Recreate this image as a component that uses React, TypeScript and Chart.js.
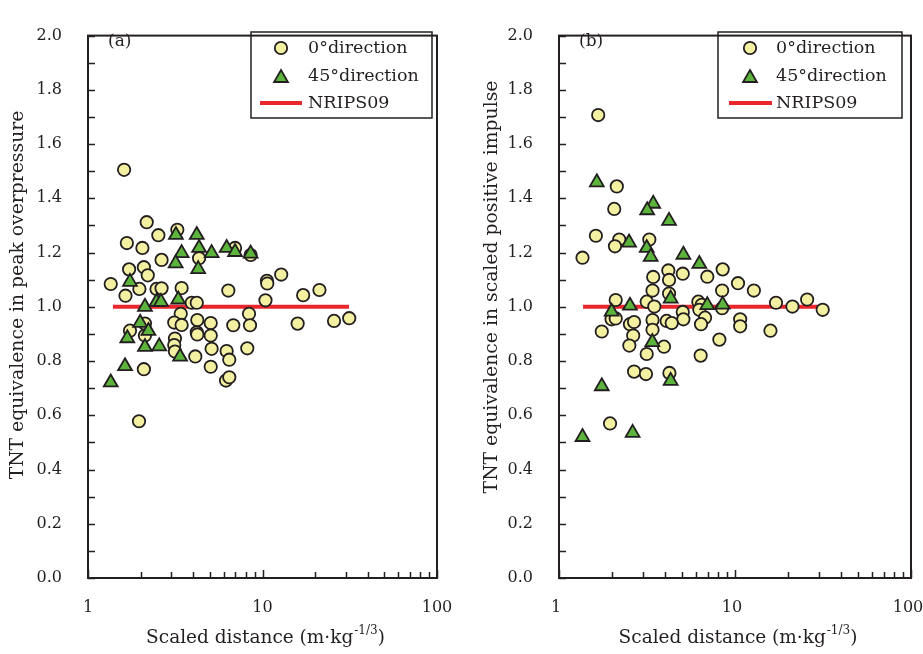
import React, { useEffect, useRef } from 'react';
import { Chart, registerables } from 'chart.js';
Chart.register(...registerables);

// ---------- data: panel (a) peak overpressure ----------
const aCircleX = [1.61, 2.17, 2.53, 3.25, 1.67, 2.05, 2.64, 4.33, 6.96, 8.55, 1.72, 2.09, 2.2, 1.35, 1.97, 2.47, 2.64, 3.44, 6.37, 10.6, 10.65, 12.8, 21.2, 17.1, 10.4, 1.64, 3.93, 4.2, 3.4, 8.37, 3.12, 3.44, 2.12, 4.23, 5.05, 6.8, 8.48, 1.74, 2.12, 4.2, 4.23, 5.05, 3.15, 3.12, 3.15, 5.11, 4.12, 6.23, 6.45, 8.18, 5.05, 2.09, 6.18, 6.45, 1.96, 15.9, 25.7, 31.4];
const aCircleY = [1.505, 1.312, 1.264, 1.284, 1.235, 1.217, 1.173, 1.179, 1.217, 1.191, 1.138, 1.146, 1.116, 1.084, 1.066, 1.066, 1.068, 1.069, 1.06, 1.096, 1.086, 1.119, 1.062, 1.043, 1.024, 1.041, 1.015, 1.015, 0.974, 0.974, 0.942, 0.933, 0.938, 0.951, 0.94, 0.932, 0.932, 0.912, 0.894, 0.906, 0.898, 0.894, 0.883, 0.859, 0.835, 0.845, 0.817, 0.837, 0.805, 0.847, 0.779, 0.77, 0.728, 0.74, 0.578, 0.938, 0.948, 0.958];
const aTriX = [3.19, 4.2, 3.44, 4.33, 5.11, 6.23, 6.96, 8.55, 3.18, 4.28, 1.74, 2.12, 2.47, 2.62, 3.29, 1.99, 2.22, 1.68, 2.12, 2.56, 3.37, 1.63, 1.35];
const aTriY = [1.265, 1.265, 1.198, 1.217, 1.198, 1.217, 1.202, 1.196, 1.16, 1.139, 1.092, 1.0, 1.018, 1.018, 1.027, 0.941, 0.911, 0.884, 0.852, 0.854, 0.816, 0.781, 0.721];
const aLineX = [1.39, 31.3];
const aLineY = [1.0, 1.0];

// ---------- data: panel (b) scaled positive impulse ----------
const bCircleX = [1.67, 2.13, 2.06, 1.62, 2.2, 2.08, 3.26, 1.36, 8.51, 4.18, 3.43, 4.22, 5.05, 6.96, 3.4, 4.22, 8.45, 2.1, 3.15, 3.48, 6.19, 6.46, 6.27, 8.45, 1.99, 2.1, 5.05, 5.09, 6.76, 2.53, 2.67, 3.4, 4.09, 4.37, 6.41, 1.75, 3.4, 2.64, 8.15, 2.51, 3.95, 3.15, 6.38, 2.67, 3.12, 4.24, 1.95, 10.4, 12.8, 17.1, 21.2, 25.7, 31.5, 10.7, 10.7, 15.9];
const bCircleY = [1.707, 1.444, 1.361, 1.262, 1.248, 1.223, 1.248, 1.181, 1.138, 1.134, 1.11, 1.099, 1.122, 1.111, 1.06, 1.049, 1.06, 1.025, 1.019, 1.001, 1.019, 1.007, 0.989, 0.995, 0.954, 0.957, 0.981, 0.954, 0.96, 0.936, 0.944, 0.951, 0.948, 0.94, 0.936, 0.909, 0.915, 0.894, 0.879, 0.857, 0.853, 0.826, 0.82, 0.761, 0.752, 0.756, 0.57, 1.087, 1.06, 1.015, 1.001, 1.027, 0.989, 0.954, 0.928, 0.912];
const bTriX = [1.64, 3.43, 3.17, 4.22, 2.5, 3.15, 3.32, 5.09, 6.27, 4.31, 2.53, 6.96, 8.51, 1.99, 3.39, 4.31, 1.75, 1.36, 2.62];
const bTriY = [1.459, 1.38, 1.356, 1.317, 1.237, 1.217, 1.184, 1.192, 1.158, 1.03, 1.004, 1.006, 1.008, 0.982, 0.87, 0.727, 0.707, 0.52, 0.535];
const bLineX = [1.37, 29.6];
const bLineY = [1.0, 1.0];

// ---------- labels ----------
const legendLabels = ['0°direction', '45°direction', 'NRIPS09'];
const xLabelValues = [1, 10, 100];
const xTitleMain = 'Scaled distance (m·kg';
const xTitleSup = '-1/3';
const xTitleEnd = ')';
const yTitleA = 'TNT equivalence in peak overpressure';
const yTitleB = 'TNT equivalence in scaled positive impulse';

const yTickValues: number[] = [];
for (let i = 0; i <= 20; i++) yTickValues.push(i / 10);
const xTickValues: number[] = [];
for (const dec of [1, 10]) for (let m = 1; m <= 9; m++) xTickValues.push(m * dec);
xTickValues.push(100);

const FONT = '"DejaVu Serif", "Liberation Serif", serif';
const TEXT = '#231f20';
const EDGE = '#231f20';
const CIRCLE_FILL = '#f3f0a2';
const TRI_FILL = '#5db43c';
const RED = '#e8262b';

interface Panel {
  left: number; width: number; yAxisWidth: number; padRight: number; labelOffset: number;
  titleX: number; titleY: number;
  circleX: number[]; circleY: number[]; triX: number[]; triY: number[]; lineX: number[]; lineY: number[];
  yTitle: string; label: string;
  legend: { l: number; t: number; r: number; b: number; marker: number; text: number; line0: number; line1: number };
}

const panels: Panel[] = [
  {
    left: 0, width: 460, yAxisWidth: 88, padRight: 23, labelOffset: 0, titleX: 18, titleY: 295,
    circleX: aCircleX, circleY: aCircleY, triX: aTriX, triY: aTriY, lineX: aLineX, lineY: aLineY,
    yTitle: yTitleA, label: '(a)',
    legend: { l: 251, t: 32, r: 432, b: 118, marker: 281, text: 308, line0: 260, line1: 302 },
  },
  {
    left: 460, width: 463, yAxisWidth: 99, padRight: 12, labelOffset: -3, titleX: 32.5, titleY: 287,
    circleX: bCircleX, circleY: bCircleY, triX: bTriX, triY: bTriY, lineX: bLineX, lineY: bLineY,
    yTitle: yTitleB, label: '(b)',
    legend: { l: 258, t: 32, r: 442, b: 118, marker: 290, text: 316, line0: 269, line1: 312 },
  },
];

function pts(xs: number[], ys: number[]) {
  return xs.map((x, i) => ({ x, y: ys[i] }));
}

function drawTriangle(ctx: CanvasRenderingContext2D, x: number, y: number, r: number) {
  let rad = 0;
  ctx.beginPath();
  ctx.moveTo(x + Math.sin(rad) * r, y - Math.cos(rad) * r);
  rad += (2 * Math.PI) / 3;
  ctx.lineTo(x + Math.sin(rad) * r, y - Math.cos(rad) * r);
  rad += (2 * Math.PI) / 3;
  ctx.lineTo(x + Math.sin(rad) * r, y - Math.cos(rad) * r);
  ctx.closePath();
}

function makeDecor(p: Panel) {
  return {
    id: 'decor' + p.label,
    afterDraw(chart: any) {
      const ctx: CanvasRenderingContext2D = chart.ctx;
      const { left, right, top, bottom } = chart.chartArea;
      const xs = chart.scales.x;
      const ys = chart.scales.y;
      ctx.save();
      // inward ticks
      ctx.strokeStyle = EDGE;
      ctx.lineWidth = 1.5;
      ctx.beginPath();
      for (const v of yTickValues) {
        const py = Math.round(ys.getPixelForValue(v)) + 0.5;
        ctx.moveTo(left, py);
        ctx.lineTo(left + 7, py);
      }
      for (const v of xTickValues) {
        const px = Math.round(xs.getPixelForValue(v)) + 0.5;
        const len = v === 1 || v === 10 || v === 100 ? 8 : 6;
        ctx.moveTo(px, bottom);
        ctx.lineTo(px, bottom - len);
      }
      ctx.stroke();
      // frame
      ctx.lineWidth = 2;
      ctx.strokeRect(left, top, right - left, bottom - top);

      // panel label
      ctx.fillStyle = TEXT;
      ctx.font = `17px ${FONT}`;
      ctx.textBaseline = 'middle';
      ctx.textAlign = 'left';
      ctx.fillText(p.label, left + 20, 42);

      // legend
      const L = p.legend;
      ctx.lineWidth = 1.5;
      ctx.strokeRect(L.l, L.t, L.r - L.l, L.b - L.t);
      const rows = [48, 76, 103];
      ctx.lineWidth = 1.8;
      ctx.fillStyle = CIRCLE_FILL;
      ctx.beginPath();
      ctx.arc(L.marker, rows[0], 6.2, 0, Math.PI * 2);
      ctx.fill();
      ctx.stroke();
      ctx.fillStyle = TRI_FILL;
      drawTriangle(ctx, L.marker, rows[1] + 2, 8);
      ctx.fill();
      ctx.stroke();
      ctx.strokeStyle = RED;
      ctx.lineWidth = 4;
      ctx.beginPath();
      ctx.moveTo(L.line0, rows[2]);
      ctx.lineTo(L.line1, rows[2]);
      ctx.stroke();
      ctx.fillStyle = TEXT;
      ctx.font = `17.5px ${FONT}`;
      legendLabels.forEach((t, i) => ctx.fillText(t, L.text, rows[i]));

      // y axis title (rotated)
      ctx.save();
      ctx.translate(p.titleX, p.titleY);
      ctx.rotate(-Math.PI / 2);
      ctx.textAlign = 'center';
      ctx.textBaseline = 'middle';
      ctx.font = `18.8px ${FONT}`;
      ctx.fillText(p.yTitle, 0, 0);
      ctx.restore();

      // x axis title with superscript
      const mainFont = `18.5px ${FONT}`;
      const supFont = `12px ${FONT}`;
      ctx.textAlign = 'left';
      ctx.font = mainFont;
      const w1 = ctx.measureText(xTitleMain).width;
      const w3 = ctx.measureText(xTitleEnd).width;
      ctx.font = supFont;
      const w2 = ctx.measureText(xTitleSup).width;
      const total = w1 + w2 + w3 + 1;
      let x0 = (left + right) / 2 + 3 - total / 2;
      const base = 643;
      ctx.textBaseline = 'alphabetic';
      ctx.font = mainFont;
      ctx.fillText(xTitleMain, x0, base);
      x0 += w1 + 1;
      ctx.font = supFont;
      ctx.fillText(xTitleSup, x0, base - 9);
      x0 += w2;
      ctx.font = mainFont;
      ctx.fillText(xTitleEnd, x0, base);
      ctx.restore();
    },
  };
}

function makeConfig(p: Panel): any {
  return {
    type: 'scatter',
    data: {
      datasets: [
        {
          label: legendLabels[1],
          data: pts(p.triX, p.triY),
          pointStyle: 'triangle',
          pointRadius: 8,
          backgroundColor: TRI_FILL,
          borderColor: EDGE,
          borderWidth: 1.8,
        },
        {
          label: legendLabels[0],
          data: pts(p.circleX, p.circleY),
          pointStyle: 'circle',
          pointRadius: 6.2,
          backgroundColor: CIRCLE_FILL,
          borderColor: EDGE,
          borderWidth: 1.8,
        },
        {
          label: legendLabels[2],
          data: pts(p.lineX, p.lineY),
          showLine: true,
          borderColor: RED,
          borderWidth: 4,
          pointRadius: 0,
          fill: false,
        },
      ],
    },
    options: {
      animation: false,
      responsive: false,
      devicePixelRatio: 1,
      events: [],
      layout: { padding: { left: 0, right: p.padRight, top: 16, bottom: 0 } },
      plugins: { legend: { display: false }, tooltip: { enabled: false } },
      scales: {
        x: {
          type: 'logarithmic',
          min: 1,
          max: 100,
          grid: { display: false, drawTicks: false },
          border: { display: false },
          ticks: {
            autoSkip: false,
            maxRotation: 0,
            padding: 20,
            labelOffset: p.labelOffset,
            color: TEXT,
            font: { family: FONT, size: 16 },
            callback: (v: number) => (xLabelValues.includes(v) ? String(v) : ''),
          },
          afterFit: (s: any) => {
            s.height = 76;
            s.paddingLeft = 0;
            s.paddingRight = 0;
          },
        },
        y: {
          min: 0,
          max: 2,
          grid: { display: false, drawTicks: false },
          border: { display: false },
          ticks: {
            stepSize: 0.2,
            padding: 26,
            color: TEXT,
            font: { family: FONT, size: 16 },
            callback: (v: number) => v.toFixed(1),
          },
          afterFit: (s: any) => {
            s.width = p.yAxisWidth;
          },
        },
      },
    },
    plugins: [makeDecor(p)],
  };
}

function PanelChart({ p }: { p: Panel }) {
  const ref = useRef<HTMLCanvasElement>(null);
  useEffect(() => {
    const chart = new Chart(ref.current as HTMLCanvasElement, makeConfig(p));
    return () => chart.destroy();
  }, [p]);
  return (
    <canvas
      ref={ref}
      width={p.width}
      height={654}
      style={{ position: 'absolute', left: p.left, top: 0, width: p.width, height: 654 }}
    />
  );
}

export default function App() {
  return (
    <div style={{ position: 'absolute', left: 0, top: 0, width: 923, height: 654, background: '#fff' }}>
      {panels.map((p) => (
        <PanelChart key={p.label} p={p} />
      ))}
    </div>
  );
}
